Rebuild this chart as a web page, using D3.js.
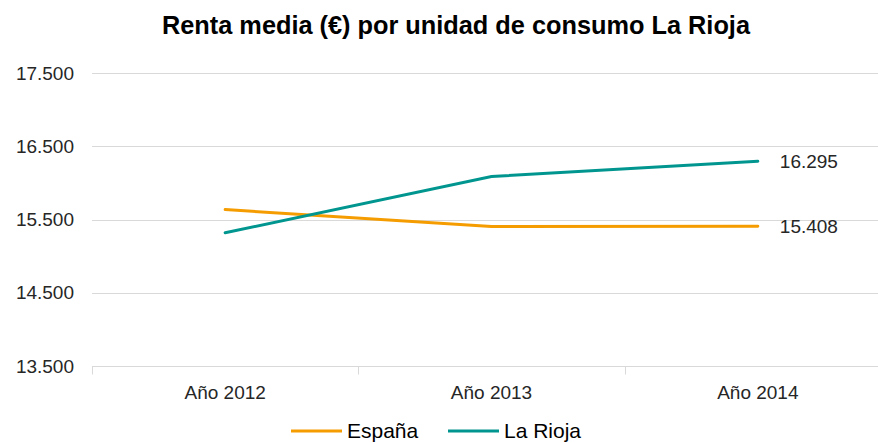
<!DOCTYPE html>
<html>
<head>
<meta charset="utf-8">
<script src="https://cdn.jsdelivr.net/npm/d3@7"></script>
<style>
  body { margin: 0; background: #fff; }
  svg { display: block; font-family: "Liberation Sans Narrow", "Arial Narrow", "Liberation Sans", sans-serif; }
</style>
</head>
<body>
<div id="chart"></div>
<script>
// data
const years = ['Año 2012', 'Año 2013', 'Año 2014'];
const espana = [15635, 15405, 15408];
const rioja = [15319, 16087, 16295];
const yTicks = [13500, 14500, 15500, 16500, 17500];
const seriesNames = ['España', 'La Rioja'];
const colors = ['#f59c00', '#00968f'];

const width = 878;
const height = 443;
const margin = {top: 73, right: -13, bottom: 77, left: 92};

const svg = d3.select('#chart').append('svg')
    .attr('width', width)
    .attr('height', height);

const x = d3.scaleBand()
    .domain(years)
    .range([margin.left, width - margin.right]);

const y = d3.scaleLinear()
    .domain([13500, 17500])
    .range([height - margin.bottom, margin.top]);

const fmt = (v) => d3.format(',')(v).replace(/,/g, '.');

// gridlines
svg.append('g')
    .selectAll('line')
    .data(yTicks)
    .join('line')
    .attr('x1', margin.left)
    .attr('x2', width - margin.right)
    .attr('y1', (d) => Math.round(y(d)) + 0.5)
    .attr('y2', (d) => Math.round(y(d)) + 0.5)
    .attr('stroke', '#d9d9d9')
    .attr('stroke-width', 1);

// y labels
svg.append('g')
    .selectAll('text')
    .data(yTicks)
    .join('text')
    .attr('x', 74)
    .attr('y', (d) => y(d))
    .attr('dy', '0.35em')
    .attr('text-anchor', 'end')
    .attr('font-size', 19)
    .attr('fill', '#262626')
    .text(fmt);

// category ticks on the base line
const base = Math.round(y(13500)) + 0.5;
svg.append('g')
    .selectAll('line')
    .data(years)
    .join('line')
    .attr('x1', (d) => Math.round(x(d)) + 0.5)
    .attr('x2', (d) => Math.round(x(d)) + 0.5)
    .attr('y1', base)
    .attr('y2', base + 8)
    .attr('stroke', '#d9d9d9');

svg.append('g')
    .selectAll('text')
    .data(years)
    .join('text')
    .attr('x', (d) => x(d) + x.bandwidth() / 2)
    .attr('y', 399)
    .attr('text-anchor', 'middle')
    .attr('font-size', 19)
    .attr('fill', '#262626')
    .text((d) => d);

// lines
const line = d3.line()
    .x((d, i) => x(years[i]) + x.bandwidth() / 2)
    .y((d) => y(d));

[espana, rioja].forEach((vals, k) => {
  svg.append('path')
      .datum(vals)
      .attr('fill', 'none')
      .attr('stroke', colors[k])
      .attr('stroke-width', 3)
      .attr('stroke-linecap', 'round')
      .attr('d', line);
  svg.append('text')
      .attr('x', x(years[2]) + x.bandwidth() / 2 + 22)
      .attr('y', y(vals[2]))
      .attr('dy', '0.35em')
      .attr('font-size', 19)
      .attr('fill', '#262626')
      .text(fmt(vals[2]));
});

// title
svg.append('text')
    .attr('x', 162)
    .attr('y', 34)
    .attr('font-size', 25)
    .attr('font-weight', 'bold')
    .attr('textLength', 588)
    .attr('lengthAdjust', 'spacingAndGlyphs')
    .attr('fill', '#000')
    .text('Renta media (€) por unidad de consumo La Rioja');

// legend
const legend = [{x: 291, name: seriesNames[0], c: colors[0]},
  {x: 448, name: seriesNames[1], c: colors[1]}];
const lg = svg.append('g');
legend.forEach((d) => {
  lg.append('line')
      .attr('x1', d.x).attr('x2', d.x + 51)
      .attr('y1', 431).attr('y2', 431)
      .attr('stroke', d.c)
      .attr('stroke-width', 3);
  lg.append('text')
      .attr('x', d.x + 56)
      .attr('y', 431)
      .attr('dy', '0.35em')
      .attr('font-size', 21)
      .attr('fill', '#000')
      .text(d.name);
});
</script>
</body>
</html>
